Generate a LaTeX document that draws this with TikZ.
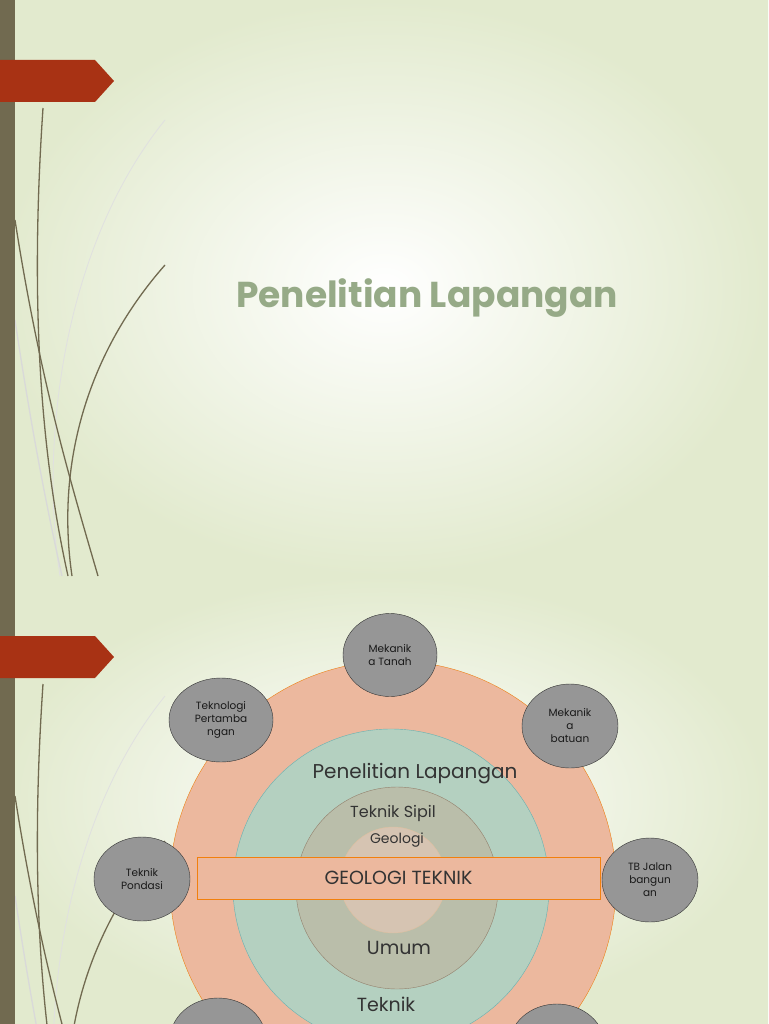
\documentclass[tikz,border=0pt]{standalone}
\usepackage{fontspec}
\setmainfont{Poppins}
\usetikzlibrary{shapes.geometric}
\definecolor{barc}{RGB}{113,106,80}
\definecolor{redc}{RGB}{168,50,20}
\definecolor{titc}{RGB}{150,170,135}
\definecolor{bgc}{RGB}{226,234,206}
\definecolor{salm}{RGB}{236,184,158}
\definecolor{tealc}{RGB}{180,208,192}
\definecolor{olc}{RGB}{186,190,170}
\definecolor{inc}{RGB}{214,196,178}
\definecolor{grayc}{RGB}{150,150,150}
\begin{document}
\begin{tikzpicture}[x=1pt,y=-1pt,
 gray/.style={ellipse,draw=black!80,fill=grayc,minimum width=96pt,minimum height=84pt,inner sep=0pt,align=center,font=\fontsize{10.5}{13}\selectfont,text=black!90},
 lbl/.style={text=black!80},
 grass/.style={draw=#1,line width=1.3pt}]
\useasboundingbox (0,0) rectangle (768,1024);
\fill[inner color=white,outer color=bgc] (0,0) rectangle (768,576);
\fill[inner color=white,outer color=bgc] (0,576) rectangle (768,1024);
\foreach \o in {0,576}{
 \begin{scope}[yshift=-\o pt]
 \clip (0,0) rectangle (768,576);
 \draw[grass=black!12,line width=0.8pt] (165,120) .. controls (60,250) and (40,450) .. (60,576);
 \draw[grass=gray!30] (15,320) .. controls (30,420) and (45,500) .. (62,576);
 \draw[grass=barc] (43,108) .. controls (30,300) and (40,450) .. (68,576);
 \draw[grass=barc] (15,220) .. controls (40,380) and (70,480) .. (98,576);
 \draw[grass=barc] (165,265) .. controls (90,350) and (55,460) .. (72,576);
 \fill[barc] (0,0) rectangle (15,576);
 \fill[redc] (0,60) -- (95,60) -- (114,81) -- (95,102) -- (0,102) -- cycle;
 \end{scope}}
\node[font=\fontsize{36}{40}\selectfont\bfseries,text=titc] (title) at (427,298) {Penelitian Lapangan};
\node[circle,draw=orange!70!brown,fill=salm,minimum size=446pt] (c1) at (393,884) {};
\node[circle,draw=teal!60,fill=tealc,minimum size=316pt] (c2) at (391,887) {};
\node[circle,draw=gray!70!brown,fill=olc,minimum size=202pt] (c3) at (397,888) {};
\node[circle,draw=brown!50,fill=inc,minimum size=106pt] (c4) at (393,880) {};
\node[draw=orange!80!brown,fill=salm,minimum width=403pt,minimum height=42pt,font=\fontsize{19}{22}\selectfont,text=black!80] (rect) at (398.5,878) {GEOLOGI TEKNIK};
\node[lbl,font=\fontsize{20}{22}\selectfont] (t1) at (415,774) {Penelitian Lapangan};
\node[lbl,font=\fontsize{16}{18}\selectfont] (t2) at (393,813) {Teknik Sipil};
\node[lbl,font=\fontsize{14}{16}\selectfont] (t3) at (397,840) {Geologi};
\node[lbl,font=\fontsize{19}{22}\selectfont] (t4) at (399,948) {Umum};
\node[lbl,font=\fontsize{19}{22}\selectfont] (t5) at (386,1004) {Teknik};
\node[gray,minimum width=94pt,minimum height=83pt] (g1) at (390,655) {Mekanik\\a Tanah};
\node[gray,minimum width=104pt] (g2) at (221,720) {Teknologi\\Pertamba\\ngan};
\node[gray] (g3) at (570,726) {Mekanik\\a\\batuan};
\node[gray] (g4) at (142,879) {Teknik\\Pondasi};
\node[gray] (g5) at (650,880) {TB Jalan\\bangun\\an};
\node[gray] (g6) at (218,1040) {};
\node[gray] (g7) at (557,1046) {};
\end{tikzpicture}
\end{document}
